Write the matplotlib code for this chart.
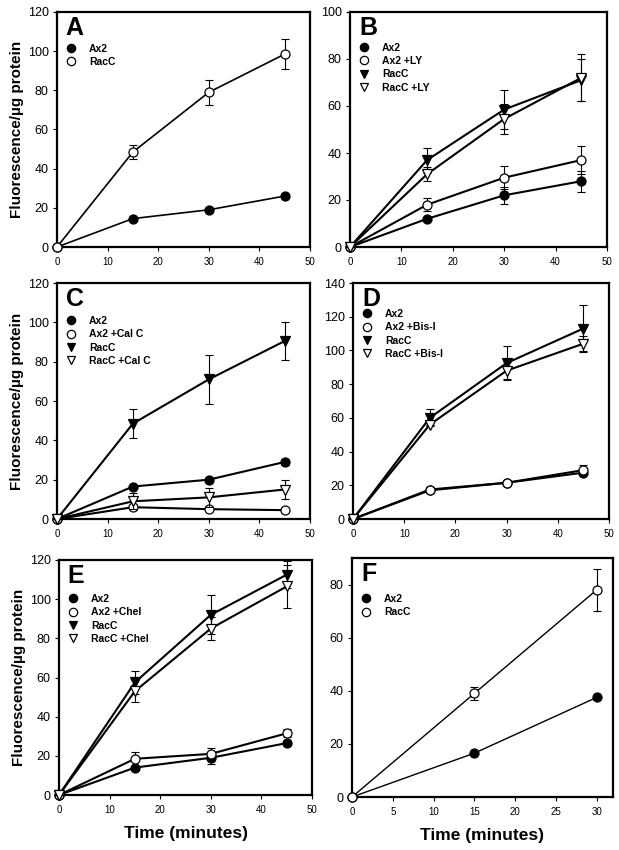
import matplotlib
matplotlib.use("Agg")
import matplotlib.pyplot as plt
from matplotlib.lines import Line2D
import numpy as np

plt.rcParams['font.family'] = ['Liberation Sans', 'DejaVu Sans']

t45 = [0, 15, 30, 45]
t30 = [0, 15, 30]

# Panel A
A_ax2 = [0, 14.5, 19, 26]
A_ax2_err = [0, 0, 0, 0]
A_racc = [0, 48.5, 79, 98.5]
A_racc_err = [0, 3.5, 6.5, 7.5]

# Panel B
B_ax2 = [0, 12, 22, 28]
B_ax2_err = [0, 0, 3.5, 4.5]
B_ax2ly = [0, 18, 29.5, 37]
B_ax2ly_err = [0, 2.8, 4.8, 6]
B_racc = [0, 37, 58.5, 71]
B_racc_err = [0, 5.3, 8.5, 9]
B_raccly = [0, 31, 54.5, 72]
B_raccly_err = [0, 3, 6.5, 10]

# Panel C
C_ax2 = [0, 16.5, 20, 29]
C_ax2_err = [0, 0, 0, 1.5]
C_ax2cal = [0, 6, 5, 4.5]
C_ax2cal_err = [0, 0, 0, 0]
C_racc = [0, 48.5, 71, 90.5]
C_racc_err = [0, 7.5, 12.5, 9.5]
C_racccal = [0, 9, 11, 15]
C_racccal_err = [0, 4, 5, 5]

# Panel D
D_ax2 = [0, 17, 21.5, 27.5]
D_ax2_err = [0, 0, 0, 0]
D_ax2bis = [0, 17.5, 21.5, 29]
D_ax2bis_err = [0, 0, 0, 3]
D_racc = [0, 60, 92.5, 113]
D_racc_err = [0, 5, 10, 14]
D_raccbis = [0, 56, 88, 104]
D_raccbis_err = [0, 0, 5, 4.5]

# Panel E
E_ax2 = [0, 14, 19, 26.5]
E_ax2_err = [0, 0, 3, 0]
E_ax2chel = [0, 18.5, 21, 31.5]
E_ax2chel_err = [0, 3.5, 3, 2]
E_racc = [0, 57.5, 92, 112.5]
E_racc_err = [0, 6, 10, 7]
E_raccchel = [0, 53, 85, 106.5]
E_raccchel_err = [0, 5.5, 6, 11]

# Panel F
F_ax2 = [0, 16.5, 37.5]
F_ax2_err = [0, 0, 0]
F_racc = [0, 39, 78]
F_racc_err = [0, 2.5, 8]

W, H = 619, 850
fig = plt.figure(figsize=(W / 100, H / 100), dpi=100)


def add_ax(l, r, t, b):
    return fig.add_axes([l / W, 1 - b / H, (r - l) / W, (b - t) / H])


STYLES = {
    'fc': dict(marker='o', mfc='black', mec='black'),
    'oc': dict(marker='o', mfc='white', mec='black'),
    'ft': dict(marker='v', mfc='black', mec='black'),
    'ot': dict(marker='v', mfc='white', mec='black'),
}


def series(ax, x, y, err, style, label, lw, z):
    ax.errorbar(x, y, yerr=err, fmt='none', ecolor='black', elinewidth=0.8,
                capsize=3, capthick=0.8, zorder=z, clip_on=False)
    ax.plot(x, y, color='black', lw=lw, ms=6.5, mew=0.9,
            zorder=z + 0.5, clip_on=False, **STYLES[style])
    if not hasattr(ax, '_leg_handles'):
        ax._leg_handles = []
    ax._leg_handles.append(Line2D([], [], linestyle='None', color='black',
                                  ms=6, mew=0.9, label=label, **STYLES[style]))


def style_ax(ax, letter, xlim, ylim, xticks, yticks, leg_y):
    ax.set_xlim(*xlim)
    ax.set_ylim(*ylim)
    ax.set_xticks(xticks)
    ax.set_yticks(yticks)
    for s in ax.spines.values():
        s.set_linewidth(1.6)
    ax.tick_params(direction='out', length=3, width=0.8, labelsize=9, pad=3)
    ax.tick_params(axis='x', labelsize=7, pad=4)
    ax.text(0.035, 0.985, letter, transform=ax.transAxes, fontsize=18,
            fontweight='bold', va='top', ha='left')
    ax.legend(handles=ax._leg_handles, loc='upper left',
              bbox_to_anchor=(0.035, leg_y), frameon=False,
              borderaxespad=0, borderpad=0, handlelength=1.0,
              handletextpad=1.2, labelspacing=0.32,
              prop={'weight': 'bold', 'size': 7.5})


# A
axA = add_ax(57, 310, 12, 247)
series(axA, t45, A_ax2, A_ax2_err, 'fc', 'Ax2', 1.2, 3)
series(axA, t45, A_racc, A_racc_err, 'oc', 'RacC', 1.2, 4)
style_ax(axA, 'A', (0, 50), (0, 120), range(0, 51, 10), range(0, 121, 20), 0.865)

# B
axB = add_ax(350, 607, 12, 247)
series(axB, t45, B_ax2, B_ax2_err, 'fc', 'Ax2', 1.5, 3)
series(axB, t45, B_ax2ly, B_ax2ly_err, 'oc', 'Ax2 +LY', 1.5, 4)
series(axB, t45, B_racc, B_racc_err, 'ft', 'RacC', 1.5, 5)
series(axB, t45, B_raccly, B_raccly_err, 'ot', 'RacC +LY', 1.5, 6)
style_ax(axB, 'B', (0, 50), (0, 100), range(0, 51, 10), range(0, 101, 20), 0.87)

# C
axC = add_ax(57, 310, 283, 519)
series(axC, t45, C_ax2, C_ax2_err, 'fc', 'Ax2', 1.5, 3)
series(axC, t45, C_ax2cal, C_ax2cal_err, 'oc', 'Ax2 +Cal C', 1.5, 4)
series(axC, t45, C_racc, C_racc_err, 'ft', 'RacC', 1.5, 5)
series(axC, t45, C_racccal, C_racccal_err, 'ot', 'RacC +Cal C', 1.5, 6)
style_ax(axC, 'C', (0, 50), (0, 120), range(0, 51, 10), range(0, 121, 20), 0.86)

# D
axD = add_ax(353, 609, 283, 519)
series(axD, t45, D_ax2, D_ax2_err, 'fc', 'Ax2', 1.5, 3)
series(axD, t45, D_ax2bis, D_ax2bis_err, 'oc', 'Ax2 +Bis-I', 1.5, 4)
series(axD, t45, D_racc, D_racc_err, 'ft', 'RacC', 1.5, 5)
series(axD, t45, D_raccbis, D_raccbis_err, 'ot', 'RacC +Bis-I', 1.5, 6)
style_ax(axD, 'D', (0, 50), (0, 140), range(0, 51, 10), range(0, 141, 20), 0.89)

# E
axE = add_ax(59, 312, 560, 795)
series(axE, t45, E_ax2, E_ax2_err, 'fc', 'Ax2', 1.5, 3)
series(axE, t45, E_ax2chel, E_ax2chel_err, 'oc', 'Ax2 +Chel', 1.5, 4)
series(axE, t45, E_racc, E_racc_err, 'ft', 'RacC', 1.5, 5)
series(axE, t45, E_raccchel, E_raccchel_err, 'ot', 'RacC +Chel', 1.5, 6)
style_ax(axE, 'E', (0, 50), (0, 120), range(0, 51, 10), range(0, 121, 20), 0.855)

# F
axF = add_ax(352, 613, 558, 797)
series(axF, t30, F_ax2, F_ax2_err, 'fc', 'Ax2', 1.0, 3)
series(axF, t30, F_racc, F_racc_err, 'oc', 'RacC', 1.0, 4)
style_ax(axF, 'F', (0, 32), (0, 90), range(0, 31, 5), range(0, 81, 20), 0.85)

for ax in (axA, axC, axE):
    ax.set_ylabel('Fluorescence/\u00b5g protein', fontsize=11,
                  fontweight='bold', labelpad=3)
for ax in (axE, axF):
    ax.set_xlabel('Time (minutes)', fontsize=12.5, fontweight='bold',
                  labelpad=8)

fig.savefig('out.png', dpi=100)
